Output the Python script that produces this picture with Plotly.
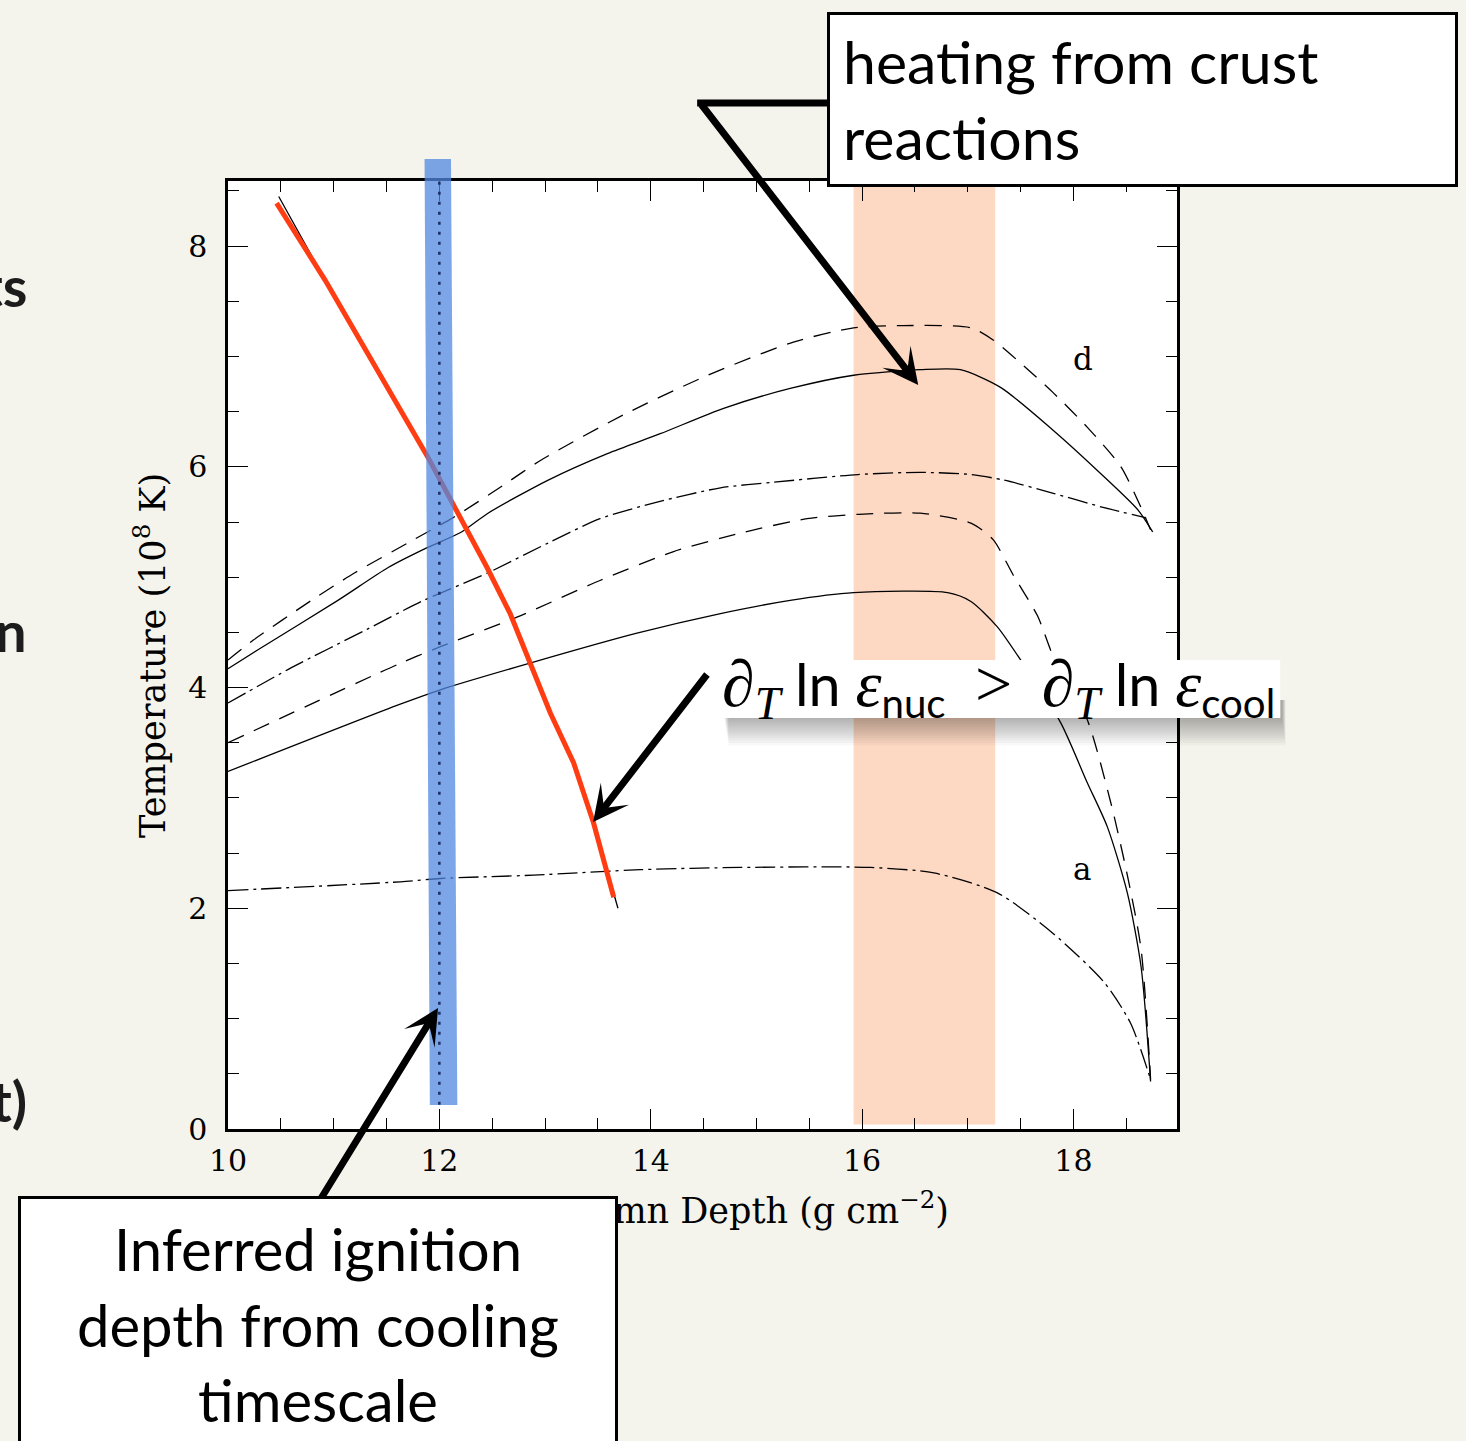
import plotly.graph_objects as go

# ---------------- data ----------------
# upper group ("d")
d_dashed_x = [10.0, 10.24, 10.79, 11.2, 11.72, 12.13, 12.6, 12.96, 13.74, 14.54, 15.35, 15.92, 16.39, 17.03, 17.24, 17.5, 17.81, 18.13, 18.45, 18.64, 18.73]
d_dashed_y = [4.25, 4.43, 4.79, 5.04, 5.32, 5.54, 5.83, 6.06, 6.47, 6.83, 7.13, 7.26, 7.28, 7.26, 7.15, 6.94, 6.67, 6.36, 6.00, 5.63, 5.43]

d_solid_x = [10.0, 10.28, 11.04, 11.52, 11.89, 12.21, 12.46, 13.03, 13.59, 14.09, 14.69, 15.32, 15.92, 16.55, 16.93, 17.31, 17.81, 18.29, 18.61, 18.75]
d_solid_y = [4.17, 4.34, 4.79, 5.09, 5.27, 5.41, 5.58, 5.88, 6.12, 6.30, 6.53, 6.71, 6.83, 6.88, 6.88, 6.72, 6.33, 5.91, 5.61, 5.41]

mid_dashdot_x = [10.0, 10.6, 11.32, 11.83, 12.46, 13.03, 13.52, 14.06, 14.66, 15.16, 15.96, 16.55, 17.03, 17.34, 17.81, 18.29, 18.68]
mid_dashdot_y = [3.86, 4.18, 4.53, 4.78, 5.04, 5.31, 5.53, 5.68, 5.81, 5.86, 5.93, 5.95, 5.93, 5.88, 5.76, 5.63, 5.54]

low_dashed_x = [10.0, 11.63, 12.01, 12.74, 13.52, 14.21, 14.85, 15.48, 15.97, 16.55, 17.03, 17.24, 17.43, 17.66, 17.81, 18.13, 18.35, 18.51, 18.64, 18.73]
low_dashed_y = [3.50, 4.22, 4.37, 4.64, 4.97, 5.23, 5.40, 5.53, 5.57, 5.58, 5.49, 5.34, 5.02, 4.65, 4.28, 3.71, 2.97, 2.30, 1.63, 0.45]

low_solid_x = [10.0, 11.63, 12.01, 12.89, 13.86, 14.66, 15.32, 15.92, 16.81, 17.03, 17.28, 17.5, 17.88, 18.13, 18.32, 18.51, 18.64, 18.73]
low_solid_y = [3.24, 3.85, 3.98, 4.23, 4.49, 4.67, 4.79, 4.86, 4.86, 4.78, 4.55, 4.25, 3.68, 3.14, 2.74, 2.14, 1.47, 0.43]

# lower curve ("a")
a_dashdot_x = [10.0, 11.63, 12.01, 12.89, 13.9, 14.85, 16.08, 16.68, 17.28, 17.81, 18.29, 18.54, 18.73]
a_dashdot_y = [2.16, 2.24, 2.27, 2.30, 2.35, 2.37, 2.37, 2.32, 2.14, 1.77, 1.33, 0.96, 0.45]

# ignition curve (thin black) and its red highlight
ign_x = [10.48, 10.92, 11.45, 11.89, 12.45, 12.67, 12.86, 13.05, 13.27, 13.46, 13.69]
ign_y = [8.45, 7.69, 6.82, 6.09, 5.09, 4.67, 4.22, 3.77, 3.32, 2.77, 2.00]
red_x = [10.46, 10.92, 11.89, 12.45, 12.67, 12.86, 13.05, 13.27, 13.46, 13.65]
red_y = [8.39, 7.69, 6.09, 5.09, 4.67, 4.22, 3.77, 3.32, 2.77, 2.10]

# highlighted regions
ignition_depth = 12.0
ignition_dotted_y = [0.22, 8.59]
ignition_band_top = [11.86, 12.11]
ignition_band_bottom = [11.91, 12.17]
crust_band = [15.92, 17.26]
crust_band_y = [0.04, 8.59]

x_range = [10, 18.98]
y_range = [0, 8.59]

# ---------------- layout helpers (pixel -> paper) ----------------
L, R, T, B = 228.0, 1176.7, 181.0, 1129.0
def fx(p):
    return (p - L) / (R - L)
def fy(p):
    return (B - p) / (B - T)

DASH = "17px,11px"
DASHDOT = "20px,5px,3px,5px"
LW = 1.3

fig = go.Figure()
def curve(x, y, dash):
    fig.add_trace(go.Scatter(x=x, y=y, mode="lines",
                             line=dict(color="black", width=LW, dash=dash, shape="spline", smoothing=0.7),
                             hoverinfo="skip", showlegend=False))

curve(d_dashed_x, d_dashed_y, DASH)
curve(d_solid_x, d_solid_y, "solid")
curve(mid_dashdot_x, mid_dashdot_y, DASHDOT)
curve(low_dashed_x, low_dashed_y, DASH)
curve(low_solid_x, low_solid_y, "solid")
curve(a_dashdot_x, a_dashdot_y, DASHDOT)

fig.add_trace(go.Scatter(x=ign_x, y=ign_y, mode="lines",
                         line=dict(color="black", width=1.3),
                         hoverinfo="skip", showlegend=False))
fig.add_trace(go.Scatter(x=red_x, y=red_y, mode="lines",
                         line=dict(color="#ff3c12", width=5),
                         hoverinfo="skip", showlegend=False))

shapes = []
# crust heating band (under curves)
shapes.append(dict(type="rect", xref="x", yref="y", x0=crust_band[0], x1=crust_band[1],
                   y0=crust_band_y[0], y1=crust_band_y[1], fillcolor="#fdd8c3",
                   line=dict(width=0), layer="below"))
# ignition band (translucent, above curves)
band_y_top, band_y_bot = fy(159), fy(1105)
shapes.append(dict(type="path", xref="x", yref="paper",
                   path=(f"M {ignition_band_top[0]},{band_y_top} L {ignition_band_top[1]},{band_y_top} "
                         f"L {ignition_band_bottom[1]},{band_y_bot} L {ignition_band_bottom[0]},{band_y_bot} Z"),
                   fillcolor="rgb(81,136,224)", opacity=0.75, line=dict(width=0), layer="above"))
# dotted marker of the ignition depth
shapes.append(dict(type="line", xref="x", yref="y", x0=ignition_depth, x1=ignition_depth,
                   y0=ignition_dotted_y[0], y1=ignition_dotted_y[1],
                   line=dict(color="#1c2c60", width=2.5, dash="3px,7px"), layer="above"))
# connector from the top box
shapes.append(dict(type="line", xref="paper", yref="paper", x0=fx(697), x1=fx(827),
                   y0=fy(103), y1=fy(103), line=dict(color="black", width=7), layer="above"))
# soft drop shadow of the math label
for i in range(12):
    shapes.append(dict(type="rect", xref="paper", yref="paper", x0=fx(724 + i * 0.4), x1=fx(1282 + i * 0.3),
                       y0=fy(700), y1=fy(719 + i * 2.4), fillcolor="rgba(0,0,0,0.028)",
                       line=dict(width=0), layer="above"))
# white card of the math label
shapes.append(dict(type="rect", xref="paper", yref="paper", x0=fx(720), x1=fx(1280),
                   y0=fy(718), y1=fy(660), fillcolor="white", line=dict(width=0), layer="above"))

annotations = []
# axis titles
annotations.append(dict(xref="paper", yref="paper", x=fx(707), y=fy(1208), xanchor="center", yanchor="middle",
                        text="log Column Depth (g cm<sup>−2</sup>)", showarrow=False,
                        font=dict(family="DejaVu Serif", size=35, color="black")))
annotations.append(dict(xref="paper", yref="paper", x=fx(150), y=0.5, xanchor="center", yanchor="middle",
                        text="Temperature (10<sup>8</sup> K)", textangle=-90, showarrow=False,
                        font=dict(family="DejaVu Serif", size=35, color="black")))
# curve labels
annotations.append(dict(xref="x", yref="y", x=18.09, y=6.98, text="d", showarrow=False,
                        font=dict(family="DejaVu Serif", size=31, color="black")))
annotations.append(dict(xref="x", yref="y", x=18.08, y=2.36, text="a", showarrow=False,
                        font=dict(family="DejaVu Serif", size=31, color="black")))
# cut-off slide text on the left
for txt, ypx in [("ts", 285), ("n", 630), ("t)", 1100)]:
    annotations.append(dict(xref="paper", yref="paper", x=fx(29), y=fy(ypx), xanchor="right",
                            yanchor="middle", text=txt, showarrow=False,
                            font=dict(family="Lato", size=56, color="#1c1c1c", weight="bold")))
# arrows
def arrow(head, tail):
    annotations.append(dict(xref="paper", yref="paper", x=fx(head[0]), y=fy(head[1]),
                            axref="pixel", ayref="pixel", ax=tail[0] - head[0], ay=tail[1] - head[1],
                            text="", showarrow=True, arrowhead=3, arrowsize=0.85, arrowwidth=7,
                            arrowcolor="black"))
arrow((918, 385), (700, 103))
arrow((593, 822), (708, 673))
arrow((438, 1008), (320, 1200))

# text boxes
annotations.append(dict(xref="paper", yref="paper", x=fx(827), y=fy(12), xanchor="left", yanchor="top",
                        text="heating from crust<br>reactions", align="left", valign="middle",
                        showarrow=False, bgcolor="white", bordercolor="black", borderwidth=3,
                        borderpad=13, width=631 - 6 - 26, height=175 - 6 - 26,
                        font=dict(family="Lato", size=59, color="black")))
serif = "font-family:Liberation Serif;font-size:66px"
math_txt = (f"<span style='{serif}'><i>∂<sub>T</sub></i></span> ln "
            f"<span style='{serif}'><i>ε</i></span><sub>nuc</sub>  "
            f"<span style='{serif}'>&gt;</span>  "
            f"<span style='{serif}'><i>∂<sub>T</sub></i></span> ln "
            f"<span style='{serif}'><i>ε</i></span><sub>cool</sub>")
annotations.append(dict(xref="paper", yref="paper", x=fx(721), y=fy(645), xanchor="left", yanchor="top",
                        text=math_txt, align="left", valign="middle", showarrow=False,
                        borderpad=0, width=559, height=84,
                        font=dict(family="Lato", size=57.5, color="black")))
annotations.append(dict(xref="paper", yref="paper", x=fx(18), y=fy(1196), xanchor="left", yanchor="top",
                        text="Inferred ignition<br>depth from cooling<br>timescale", align="center",
                        valign="middle", showarrow=False, bgcolor="white", bordercolor="black",
                        borderwidth=3, borderpad=14, width=600 - 6 - 28, height=1452 - 1196 - 6 - 28,
                        font=dict(family="Lato", size=58, color="black")))

axis_common = dict(ticks="inside", ticklen=20, tickwidth=1.3, tickcolor="black",
                   showline=True, linewidth=2.5, linecolor="black", mirror="allticks",
                   showgrid=False, zeroline=False,
                   tickfont=dict(family="DejaVu Serif", size=30, color="black"),
                   minor=dict(dtick=0.5, ticks="inside", ticklen=11, tickwidth=1.3,
                              tickcolor="black", showgrid=False))

fig.update_layout(
    width=1466, height=1441, autosize=False,
    margin=dict(l=L, r=1466 - R, t=T, b=1441 - B, pad=0),
    paper_bgcolor="#f4f3ec", plot_bgcolor="white",
    showlegend=False, hovermode=False,
    xaxis=dict(range=x_range, tick0=10, dtick=2, ticklabelstandoff=3, **axis_common),
    yaxis=dict(range=y_range, tick0=0, dtick=2, ticklabelstandoff=12, **axis_common),
    shapes=shapes, annotations=annotations,
)

fig.write_html("out.html")
